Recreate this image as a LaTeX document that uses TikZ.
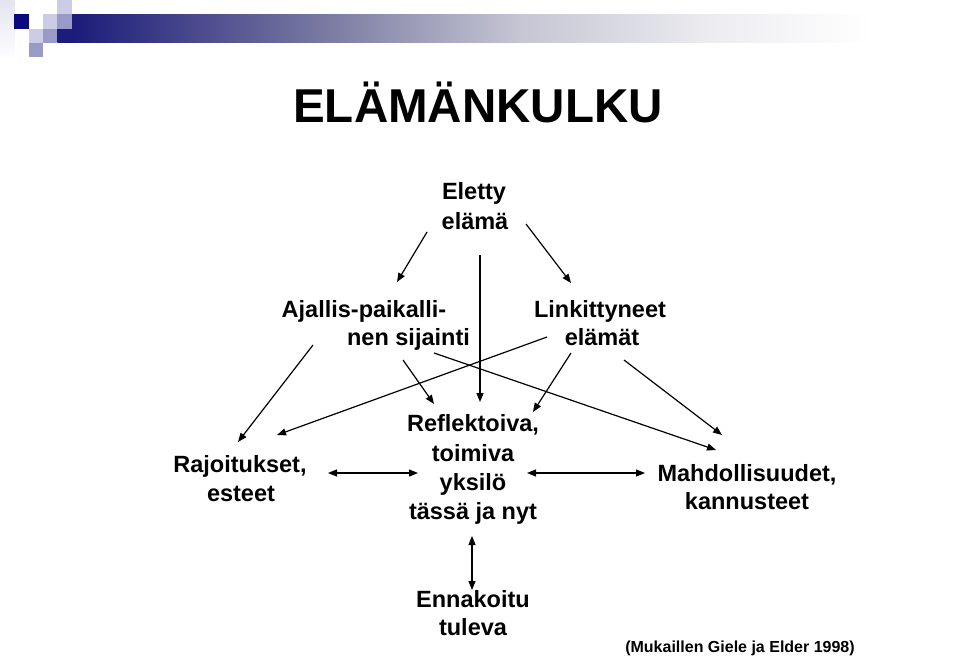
\documentclass[tikz,border=0pt]{standalone}
\usepackage{fontspec}
\setmainfont{Liberation Sans}
\usetikzlibrary{arrows.meta}
\definecolor{navy}{HTML}{1C1C7A}
\definecolor{barmid}{HTML}{7A7AA2}
\definecolor{barlt}{HTML}{C6C6D4}
\definecolor{barvl}{HTML}{EEEEF2}
\definecolor{sqdark}{HTML}{0A0A80}
\definecolor{sqmed}{HTML}{9A9AC8}
\definecolor{sqlight}{HTML}{CCCCE6}
\definecolor{edgelt}{HTML}{E4E4F0}
\pgfdeclarehorizontalshading{barshade}{100bp}{color(0bp)=(navy); color(25bp)=(navy); color(26bp)=(navy); color(41.5bp)=(barmid); color(53.5bp)=(barlt); color(66bp)=(barvl); color(75bp)=(white); color(100bp)=(white)}
\tikzset{
  lbl/.style={font=\fontsize{23.5}{28}\selectfont\bfseries, inner sep=0pt, anchor=base},
  ttl/.style={font=\fontsize{47.5}{56}\selectfont\bfseries, inner sep=0pt, anchor=base},
  cite/.style={font=\fontsize{16}{19}\selectfont\bfseries, inner sep=0pt, anchor=base},
  arr/.style={line width=1.2pt, -{Triangle[length=9pt,width=7pt]}},
  darr/.style={line width=1.2pt, {Triangle[length=9pt,width=7pt]}-{Triangle[length=9pt,width=7pt]}}
}
\begin{document}
\begin{tikzpicture}[x=1pt,y=-1pt]
\useasboundingbox (0,0) rectangle (960,658);
\fill[white] (0,0) rectangle (960,658);
% header decoration
\shade[top color=edgelt, bottom color=white] (0,0) rectangle (14.3,60);
\shade[shading=barshade] (57.3,14.3) rectangle (870,43);
\fill[sqlight] (57.3,0) rectangle (71.6,14.3);
\fill[sqlight] (43,14.3) rectangle (57.3,28.6);
\fill[sqmed] (57.3,14.3) rectangle (71.6,28.6);
\fill[sqdark] (14.3,14.3) rectangle (28.6,28.6);
\fill[sqlight] (28.6,28.6) rectangle (43,43);
\fill[sqmed] (43,28.6) rectangle (57.3,43);
\fill[sqmed] (28.6,43) rectangle (43,57.3);
% title
\node[ttl] (title) at (478,123) {ELÄMÄNKULKU};
% labels
\node[lbl] (e1) at (474,199) {Eletty};
\node[lbl] (e2) at (475,229) {elämä};
\node[lbl] (a1) at (364,317) {Ajallis-paikalli-};
\node[lbl] (a2) at (408.5,345) {nen sijainti};
\node[lbl] (l1) at (600,317) {Linkittyneet};
\node[lbl] (l2) at (602,345) {elämät};
\node[lbl] (r1) at (473,431) {Reflektoiva,};
\node[lbl] (r2) at (473,461) {toimiva};
\node[lbl] (r3) at (473,490) {yksilö};
\node[lbl] (r4) at (473,519) {tässä ja nyt};
\node[lbl] (j1) at (240,472) {Rajoitukset,};
\node[lbl] (j2) at (241,501) {esteet};
\node[lbl] (m1) at (747,481) {Mahdollisuudet,};
\node[lbl] (m2) at (747,509) {kannusteet};
\node[lbl] (n1) at (473,607) {Ennakoitu};
\node[lbl] (n2) at (473,635) {tuleva};
\node[cite] (src) at (740,652) {(Mukaillen Giele ja Elder 1998)};
% connector end points
\coordinate (eA) at (427,232);  \coordinate (aT) at (397,282);
\coordinate (eL) at (526,224);  \coordinate (lT) at (571,283);
\coordinate (eR) at (480,255);  \coordinate (rT) at (480,402);
\coordinate (aJ) at (313,345);  \coordinate (jT1) at (238,442);
\coordinate (lJ) at (547,337);  \coordinate (jT2) at (277,435);
\coordinate (aR) at (403,360);  \coordinate (rT1) at (434,404);
\coordinate (lR) at (571,353);  \coordinate (rT2) at (533,412);
\coordinate (aM) at (434,353);  \coordinate (mT1) at (716,450);
\coordinate (lM) at (624,360);  \coordinate (mT2) at (722,435);
\coordinate (jR) at (328,473);  \coordinate (rJ) at (418,473);
\coordinate (rM) at (527,473);  \coordinate (mR) at (645,473);
\coordinate (rN) at (472,536);  \coordinate (nR) at (472,590);
% connectors
\draw[arr] (eA) -- (aT);
\draw[arr] (eL) -- (lT);
\draw[arr] (eR) -- (rT);
\draw[arr] (aJ) -- (jT1);
\draw[arr] (lJ) -- (jT2);
\draw[arr] (aR) -- (rT1);
\draw[arr] (lR) -- (rT2);
\draw[arr] (aM) -- (mT1);
\draw[arr] (lM) -- (mT2);
\draw[darr] (jR) -- (rJ);
\draw[darr] (rM) -- (mR);
\draw[darr] (rN) -- (nR);
\end{tikzpicture}
\end{document}
